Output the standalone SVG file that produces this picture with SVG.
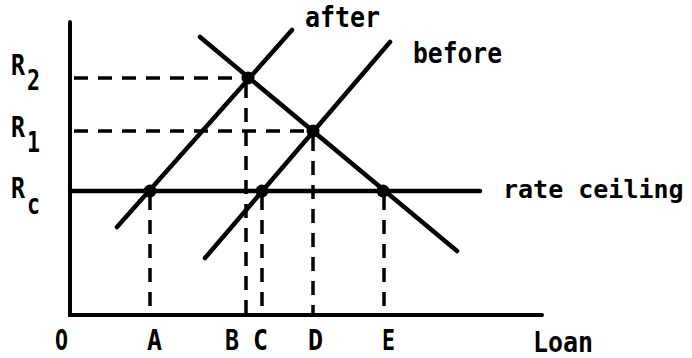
<svg xmlns="http://www.w3.org/2000/svg" width="692" height="358" viewBox="0 0 692 358">
<style>
.ax{stroke:#000;stroke-width:4;fill:none;stroke-linecap:round}
.ln{stroke:#000;stroke-width:4.5;fill:none;stroke-linecap:round}
.ds{stroke:#000;stroke-width:3.5;fill:none;stroke-dasharray:14 10}
.pt{fill:#000}
text{font-family:"DejaVu Sans Mono","Liberation Mono",monospace;font-weight:bold;font-size:28px;fill:#000}
</style>
<rect width="692" height="358" fill="#fff"/>
<g id="axes">
<path class="ax" d="M70 22 L70 315 L542 315"/>
</g>
<g id="connectors">
<path class="ln" d="M70 191 L480 191"/>
<path class="ln" d="M117 227 L292 30"/>
<path class="ln" d="M205 258 L390 42"/>
<path class="ln" d="M200 37 L457 251"/>
<path class="ds" d="M74 78 L247 78"/>
<path class="ds" d="M74 131 L313 131"/>
<path class="ds" d="M150 196 L150 315"/>
<path class="ds" d="M246 84 L246 315"/>
<path class="ds" d="M262 196 L262 315"/>
<path class="ds" d="M313 137 L313 315"/>
<path class="ds" d="M384 196 L384 315"/>
</g>
<g id="points">
<circle class="pt" cx="248" cy="78" r="6.5"/>
<circle class="pt" cx="313" cy="131" r="6.5"/>
<circle class="pt" cx="150" cy="191" r="6.5"/>
<circle class="pt" cx="262" cy="191" r="6.5"/>
<circle class="pt" cx="383" cy="191" r="6.5"/>
</g>
<g id="label-after"><text x="305" y="27" textLength="75" lengthAdjust="spacingAndGlyphs">after</text></g>
<g id="label-before"><text x="413" y="63" textLength="89" lengthAdjust="spacingAndGlyphs">before</text></g>
<g id="label-ceiling"><text x="503" y="198" style="font-size:25px">rate ceiling</text></g>
<g id="label-loan"><text x="533" y="352" textLength="60" lengthAdjust="spacingAndGlyphs">Loan</text></g>
<g id="label-R2"><text x="11" y="75" textLength="14" lengthAdjust="spacingAndGlyphs">R</text><text x="27" y="90" textLength="13" lengthAdjust="spacingAndGlyphs">2</text></g>
<g id="label-R1"><text x="11" y="137" textLength="14" lengthAdjust="spacingAndGlyphs">R</text><text x="27" y="152" textLength="13" lengthAdjust="spacingAndGlyphs">1</text></g>
<g id="label-Rc"><text x="11" y="198" textLength="14" lengthAdjust="spacingAndGlyphs">R</text><text x="27" y="214" textLength="13" lengthAdjust="spacingAndGlyphs">c</text></g>
<g id="x-labels">
<text x="55" y="350" textLength="13" lengthAdjust="spacingAndGlyphs">O</text>
<text x="147" y="350" textLength="15" lengthAdjust="spacingAndGlyphs">A</text>
<text x="225" y="350" textLength="14" lengthAdjust="spacingAndGlyphs">B</text>
<text x="253" y="350" textLength="15" lengthAdjust="spacingAndGlyphs">C</text>
<text x="308" y="350" textLength="15" lengthAdjust="spacingAndGlyphs">D</text>
<text x="382" y="350" textLength="13" lengthAdjust="spacingAndGlyphs">E</text>
</g>
</svg>
